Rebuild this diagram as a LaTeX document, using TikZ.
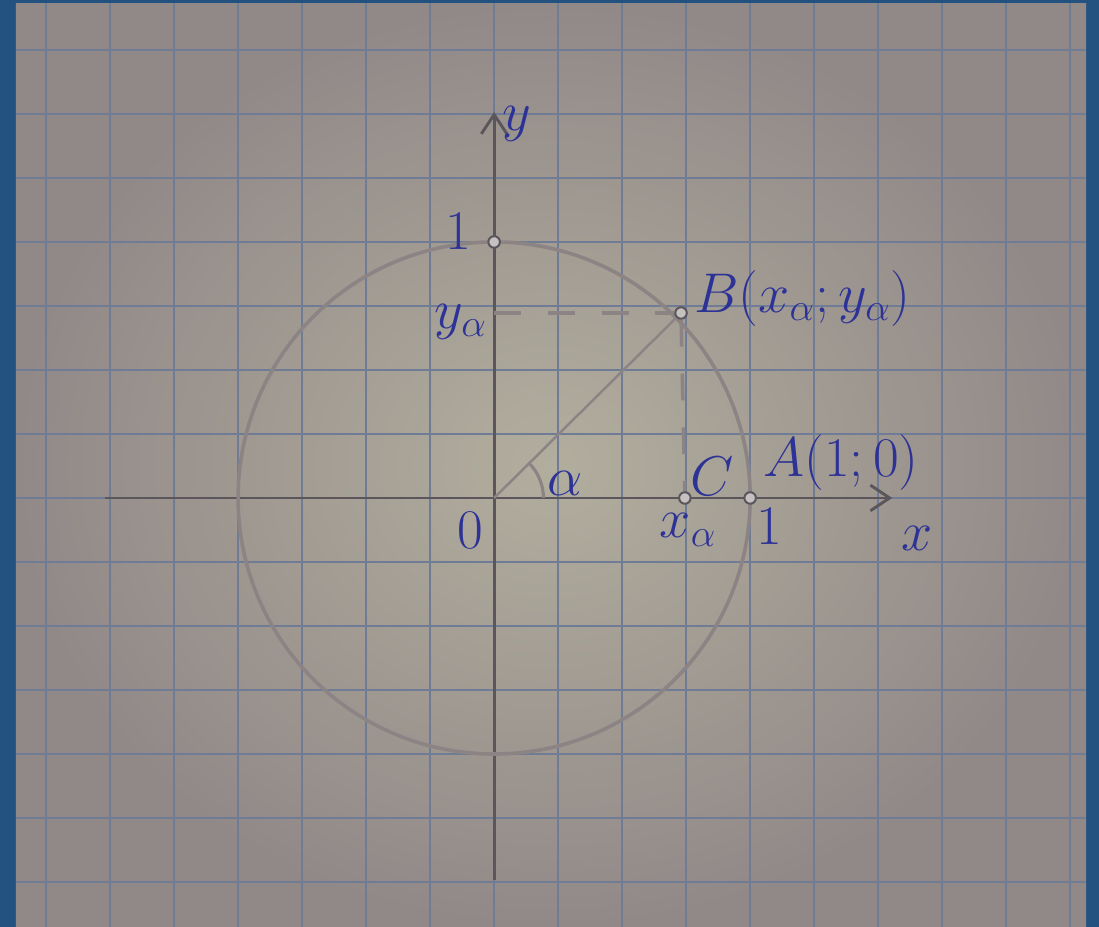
\documentclass[tikz,border=0pt]{standalone}
\usepackage{xcolor}
\usetikzlibrary{arrows.meta, calc}
\definecolor{ink}{RGB}{45,50,150}
\definecolor{pencil}{RGB}{90,86,92}
\definecolor{lightpencil}{RGB}{140,132,132}
\definecolor{gridblue}{RGB}{112,124,150}
\definecolor{paper}{RGB}{178,174,158}
\definecolor{paperdark}{RGB}{145,137,136}
\definecolor{frame}{RGB}{35,82,128}

\begin{document}
\begin{tikzpicture}[>={Straight Barb[length=3mm, width=4mm]}, every node/.style={font=\fontsize{23}{28}\selectfont, text=ink}, dot/.style={circle, draw=pencil, fill=lightpencil!50!white, line width=0.9pt, inner sep=0pt, minimum size=1.8mm}, axis/.style={pencil, line width=1.3pt}]
  \useasboundingbox (-7.72,-6.70) rectangle (9.45,7.78);
  % photo frame and squared paper
  \fill[frame] (-7.72,-6.70) rectangle (9.45,7.78);
  \shade[inner color=paper, outer color=paperdark] (-7.47,-6.70) rectangle (9.25,7.73);
  \draw[gridblue, line width=0.9pt, step=1] (-7.47,-6.70) grid (9.25,7.73);
  % axes and unit circle
  \coordinate (O) at (0,0);
  \coordinate (xl) at (-6.08,0);
  \coordinate (xr) at (6.22,0);
  \coordinate (yb) at (0,-5.97);
  \coordinate (yt) at (0,6.03);
  \draw[axis, ->] (xl) -- (xr);
  \draw[axis, ->] (yb) -- (yt);
  \draw[lightpencil, line width=1.6pt] (O) circle[radius=4];
  \node[dot] (T) at (0,4) {};
  \node[dot] (A) at (4,0) {};
  \node[dot] (C) at (2.98,0) {};
  \node[dot] (B) at (2.92,2.89) {};
  \coordinate (Yb) at (0,2.89);
  \draw[lightpencil, line width=1.1pt] (O) -- (B);
  \draw[lightpencil, line width=1.6pt, dash pattern=on 0.42cm off 0.42cm] (Yb) -- (B);
  \draw[lightpencil, line width=1.6pt, dash pattern=on 0.42cm off 0.42cm] (B) -- (C);
  \draw[lightpencil, line width=1.4pt] ($(O)+(0:0.77)$) arc[start angle=0, end angle=45, radius=0.77];
  % labels
  \node (ylab) at (0.35,5.85) {$y$};
  \node (xlab) at (6.6,-0.63) {$x$};
  \node (oneY) at (-0.56,4.16) {$1$};
  \node (oneX) at (4.3,-0.45) {$1$};
  \node (zero) at (-0.37,-0.5) {$0$};
  \node (yalpha) at (-0.52,2.75) {$y_\alpha$};
  \node (xalpha) at (3.03,-0.5) {$x_\alpha$};
  \node (alpha) at (1.11,0.23) {$\alpha$};
  \node (Clab) at (3.4,0.33) {$C$};
  \node[anchor=west, inner sep=0pt] (Alab) at (4.2,0.55) {$A(1;0)$};
  \node[anchor=west, inner sep=0pt] (Blab) at (3.12,3.12) {$B(x_\alpha;y_\alpha)$};
\end{tikzpicture}
\end{document}
